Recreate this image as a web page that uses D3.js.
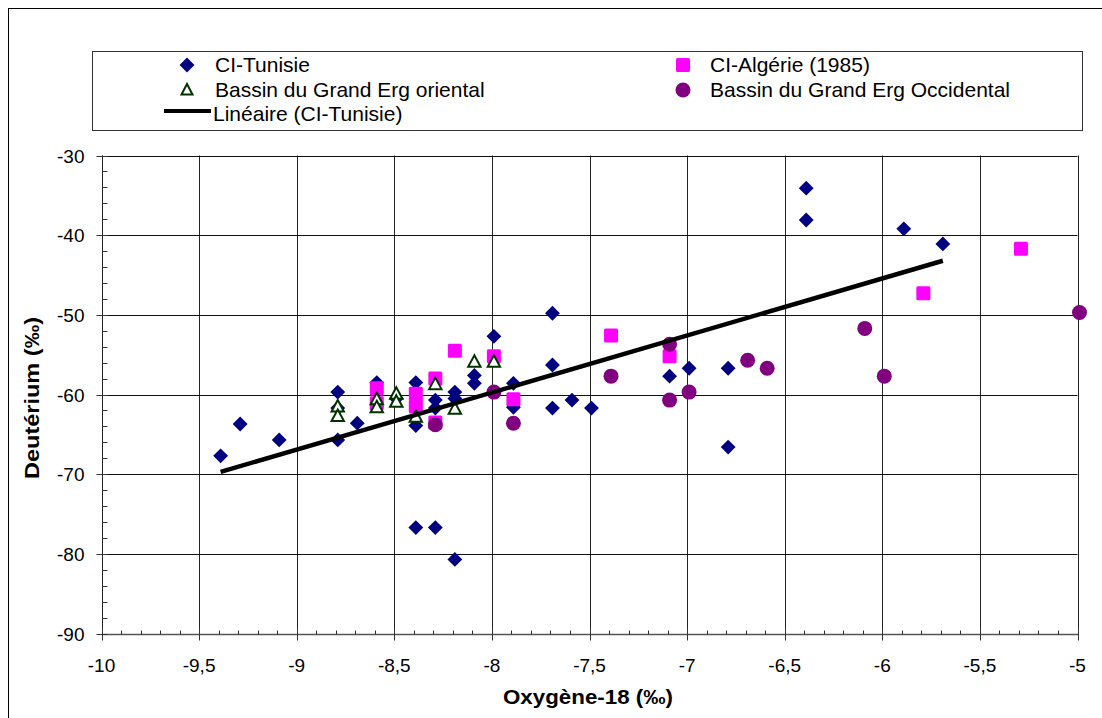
<!DOCTYPE html>
<html>
<head>
<meta charset="utf-8">
<script src="https://cdn.jsdelivr.net/npm/d3@7"></script>
<style>
html,body{margin:0;padding:0;background:#fff;}
svg{display:block;font-family:"Liberation Sans",Arial,sans-serif;}
</style>
</head>
<body>
<svg id="chart" width="1102" height="718"></svg>
<script>
// ---- data ----
const tunisieX = [-9.4,-9.3,-9.1,-8.8,-8.8,-8.8,-8.7,-8.6,-8.5,-8.4,-8.4,-8.4,-8.3,-8.3,-8.3,-8.2,-8.2,-8.2,-8.1,-8.1,-8.0,-7.9,-7.9,-7.7,-7.7,-7.7,-7.6,-7.5,-7.1,-7.0,-6.8,-6.8,-6.4,-6.4,-5.9,-5.7];
const tunisieY = [-67.7,-63.7,-65.7,-59.7,-61.7,-65.7,-63.6,-58.5,-60.5,-58.5,-63.9,-76.7,-60.7,-61.7,-76.7,-59.7,-60.5,-80.7,-57.6,-58.6,-52.7,-58.6,-61.6,-49.8,-56.3,-61.7,-60.7,-61.7,-57.7,-56.7,-56.7,-66.6,-34.1,-38.1,-39.2,-41.1];
const algerieX = [-8.6,-8.6,-8.4,-8.4,-8.3,-8.3,-8.2,-8.0,-7.9,-7.4,-7.1,-5.8,-5.3];
const algerieY = [-59.2,-61.1,-59.9,-61.5,-58.0,-63.5,-54.5,-55.2,-60.6,-52.6,-55.2,-47.3,-41.7];
const orientalX = [-8.8,-8.8,-8.6,-8.6,-8.5,-8.5,-8.4,-8.3,-8.2,-8.1,-8.0];
const orientalY = [-61.5,-62.7,-60.6,-61.6,-59.9,-60.9,-62.8,-58.7,-61.8,-55.9,-55.9];
const occidentalX = [-8.3,-8.0,-7.9,-7.4,-7.1,-7.1,-7.0,-6.7,-6.6,-6.1,-6.0,-5.0];
const occidentalY = [-63.8,-59.7,-63.6,-57.7,-53.7,-60.7,-59.7,-55.7,-56.7,-51.7,-57.7,-49.7];
const trendSlope = 7.16, trendIntercept = -2.4, trendRange = [-9.4, -5.7];
const xTicks = [-10,-9.5,-9,-8.5,-8,-7.5,-7,-6.5,-6,-5.5,-5];
const xTickLabels = ["-10","-9,5","-9","-8,5","-8","-7,5","-7","-6,5","-6","-5,5","-5"];
const yTicks = [-30,-40,-50,-60,-70,-80,-90];
const yTickLabels = ["-30","-40","-50","-60","-70","-80","-90"];
const legendLabels = ["CI-Tunisie","CI-Algérie (1985)","Bassin du Grand Erg oriental","Bassin du Grand Erg Occidental","Linéaire (CI-Tunisie)"];
const xTitle = "Oxygène-18 (‰)";
const yTitle = "Deutérium (‰)";

// ---- layout ----
const svg = d3.select("#chart");
const L = 101.5, R = 1077.5, T = 155.5, B = 633.5;
const x = d3.scaleLinear().domain([-10,-5]).range([L,R]);
const y = d3.scaleLinear().domain([-90,-30]).range([B,T]);
const px = v => Math.round(x(v)) + 0.5;
const py = v => Math.round(y(v)) + 0.5;

// outer border
svg.append("rect").attr("x",8.5).attr("y",8.5).attr("width",1100).attr("height",720)
  .attr("fill","#fff").attr("stroke","#000").attr("stroke-width",1);

// gridlines
const g = svg.append("g");
g.selectAll(".vg").data(xTicks).join("line")
  .attr("x1",px).attr("x2",px)
  .attr("y1",T).attr("y2",B).attr("stroke","#222").attr("stroke-width",1);
g.selectAll(".hg").data(yTicks).join("line")
  .attr("x1",L).attr("x2",R)
  .attr("y1",py).attr("y2",py)
  .attr("stroke","#111").attr("stroke-width",1);

// axes
const ax = svg.append("g");
ax.append("line").attr("x1",L).attr("x2",R+1).attr("y1",py(-90)).attr("y2",py(-90)).attr("stroke","#555").attr("stroke-width",1.5);
ax.append("line").attr("x1",px(-10)).attr("x2",px(-10)).attr("y1",T).attr("y2",B).attr("stroke","#222").attr("stroke-width",1);
// minor x ticks (inside)
ax.selectAll(".mx").data(d3.range(-10,-5.001,0.1)).join("line")
  .attr("x1",px).attr("x2",px)
  .attr("y1",py(-90)).attr("y2",py(-90)-4).attr("stroke","#333");
// major x ticks (cross)
ax.selectAll(".Mx").data(xTicks).join("line")
  .attr("x1",px).attr("x2",px)
  .attr("y1",py(-90)-6).attr("y2",py(-90)+6).attr("stroke","#333");
// minor y ticks (inside)
ax.selectAll(".my").data(d3.range(-90,-29.9,2)).join("line")
  .attr("x1",px(-10)).attr("x2",px(-10)+5)
  .attr("y1",py).attr("y2",py).attr("stroke","#333");
// major y ticks
ax.selectAll(".My").data(yTicks).join("line")
  .attr("x1",px(-10)-6).attr("x2",px(-10))
  .attr("y1",py).attr("y2",py).attr("stroke","#333");

// tick labels
ax.selectAll(".xl").data(xTicks).join("text")
  .attr("x",d=>x(d)).attr("y",B+38).attr("text-anchor","middle")
  .attr("font-size",19).attr("fill","#000").text((d,i)=>xTickLabels[i]);
ax.selectAll(".yl").data(yTicks).join("text")
  .attr("x",L-17).attr("y",d=>y(d)+7).attr("text-anchor","end")
  .attr("font-size",19).attr("fill","#000").text((d,i)=>yTickLabels[i]);

// axis titles
svg.append("text").attr("x",588).attr("y",704).attr("text-anchor","middle")
  .attr("font-size",20).attr("font-weight","bold")
  .attr("textLength",170).attr("lengthAdjust","spacingAndGlyphs").text(xTitle);
svg.append("text").attr("transform","translate(39,398) rotate(-90)").attr("text-anchor","middle")
  .attr("font-size",20).attr("font-weight","bold")
  .attr("textLength",162).attr("lengthAdjust","spacingAndGlyphs").text(yTitle);

// markers (Excel draws the series ~2px right of the gridlines)
const NAVY="#000080", PINK="#FF00FF", GREEN="#003300", PURPLE="#800080";
const pts = svg.append("g").attr("transform","translate(2,0)");
const diamond = d3.symbol().type(d3.symbolSquare).size(110);
pts.selectAll(".tun").data(tunisieX.map((v,i)=>[v,tunisieY[i]])).join("path")
  .attr("d",diamond).attr("transform",d=>`translate(${x(d[0])},${y(d[1])}) rotate(45)`)
  .attr("fill",NAVY);
pts.selectAll(".alg").data(algerieX.map((v,i)=>[v,algerieY[i]])).join("rect")
  .attr("x",d=>x(d[0])-7).attr("y",d=>y(d[1])-7).attr("width",14).attr("height",14)
  .attr("rx",1.5).attr("fill",PINK);
const tri = "M0,-6.5L6.2,5L-6.2,5Z";
pts.selectAll(".ori").data(orientalX.map((v,i)=>[v,orientalY[i]])).join("path")
  .attr("d",tri).attr("transform",d=>`translate(${x(d[0])},${y(d[1])})`)
  .attr("fill","#fff").attr("stroke",GREEN).attr("stroke-width",2).attr("stroke-linejoin","miter");
pts.selectAll(".occ").data(occidentalX.map((v,i)=>[v,occidentalY[i]])).join("circle")
  .attr("cx",d=>x(d[0])).attr("cy",d=>y(d[1])).attr("r",7.5).attr("fill",PURPLE);

// trendline
pts.append("line")
  .attr("x1",x(trendRange[0])).attr("y1",y(trendSlope*trendRange[0]+trendIntercept))
  .attr("x2",x(trendRange[1])).attr("y2",y(trendSlope*trendRange[1]+trendIntercept))
  .attr("stroke","#000").attr("stroke-width",4.5);

// legend
const lg = svg.append("g");
lg.append("rect").attr("x",92.5).attr("y",51.5).attr("width",990).attr("height",79)
  .attr("fill","#fff").attr("stroke","#333").attr("stroke-width",1);
const c1m = 187, c1t = 215, c2m = 683, c2t = 710;
const r1 = 65, r2 = 90, r3 = 114;
lg.append("path").attr("d",diamond).attr("transform",`translate(${c1m},${r1}) rotate(45)`).attr("fill",NAVY);
lg.append("rect").attr("x",c2m-7).attr("y",r1-7).attr("width",14).attr("height",14).attr("rx",1.5).attr("fill",PINK);
lg.append("path").attr("d","M0,-6L5.5,4.5L-5.5,4.5Z").attr("transform",`translate(${c1m},${r2})`)
  .attr("fill","#fff").attr("stroke",GREEN).attr("stroke-width",2);
lg.append("circle").attr("cx",c2m).attr("cy",r2).attr("r",7.5).attr("fill",PURPLE);
lg.append("line").attr("x1",164).attr("x2",211).attr("y1",r3-3).attr("y2",r3-3).attr("stroke","#000").attr("stroke-width",4);
const lpos = [[c1t,r1],[c2t,r1],[c1t,r2],[c2t,r2],[c1t-2,r3]];
lg.selectAll(".lt").data(legendLabels).join("text")
  .attr("x",(d,i)=>lpos[i][0]).attr("y",(d,i)=>lpos[i][1]+7)
  .attr("font-size",21).attr("fill","#000").text(d=>d);
</script>
</body>
</html>
